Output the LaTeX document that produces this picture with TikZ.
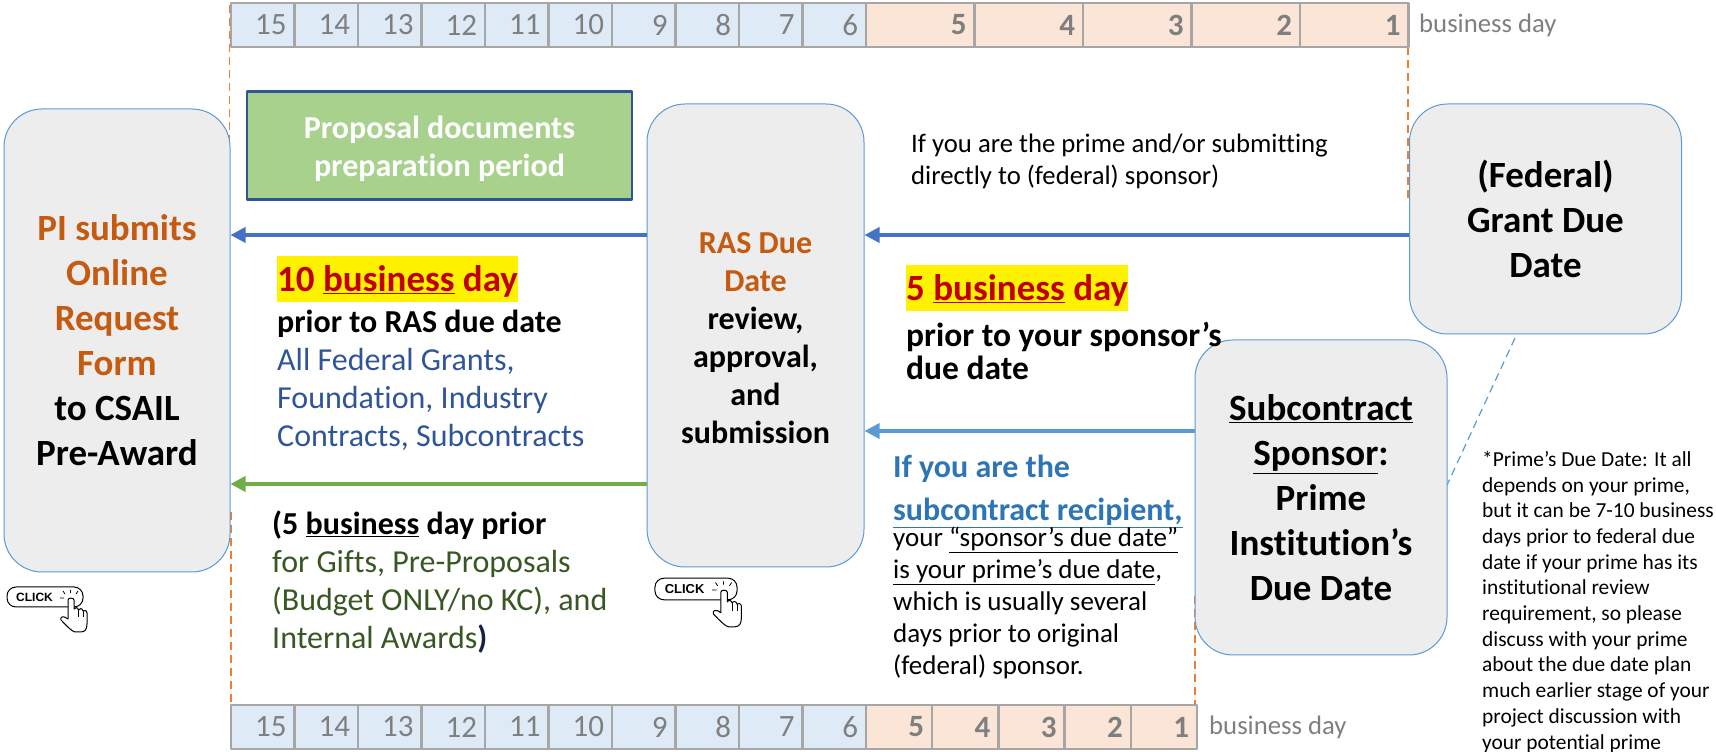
\documentclass[tikz,border=0pt]{standalone}
\usepackage{fontspec}
\setmainfont{Carlito}[Ligatures=CommonOff]
\newfontfamily\clickfont{Liberation Sans}
\usepackage{xcolor}
\usetikzlibrary{arrows.meta,calc}
\definecolor{boxline}{HTML}{5B9BD5}
\definecolor{boxfill}{HTML}{EDEDED}
\definecolor{cellline}{HTML}{A6A6A6}
\definecolor{cellblue}{HTML}{DEEBF7}
\definecolor{cellorange}{HTML}{FBE5D6}
\definecolor{numgray}{HTML}{7F7F7F}
\definecolor{duered}{HTML}{C00000}
\definecolor{titleorange}{HTML}{C55A11}
\definecolor{dashorange}{HTML}{ED7D31}
\definecolor{arrowblue}{HTML}{4472C4}
\definecolor{arrowgreen}{HTML}{70AD47}
\definecolor{navytext}{HTML}{2F5597}
\definecolor{darknavy}{HTML}{1B1F45}
\definecolor{greentext}{HTML}{385723}
\definecolor{subblue}{HTML}{2E75B6}
\definecolor{prepgreen}{HTML}{A9D18E}
\tikzset{
  fontbig/.style={font=\fontsize{37bp}{45bp}\selectfont\bfseries},
  fontmid/.style={font=\fontsize{32bp}{38bp}\selectfont},
  fontsmall/.style={font=\fontsize{27bp}{32bp}\selectfont},
  stepbox/.style={draw=boxline,line width=1bp,fill=boxfill,rounded corners=38bp,inner sep=0pt,align=center},
  cellbase/.style={draw=cellline,line width=2.5bp,minimum height=44bp,inner xsep=8bp,inner ysep=0pt,align=right,text=numgray,font=\fontsize{31bp}{32bp}\selectfont},
  cellb/.style={cellbase,fill=cellblue,text width=47.5bp},
  cello/.style={cellbase,fill=cellorange,text width=92.5bp,font=\fontsize{31bp}{32bp}\selectfont\bfseries},
  cellp/.style={cellbase,fill=cellorange,text width=50.2bp,font=\fontsize{31bp}{32bp}\selectfont\bfseries},
  daylabel/.style={anchor=west,inner sep=0pt,text=numgray,font=\fontsize{26.7bp}{30bp}\selectfont},
  hilite/.style={anchor=north west,fill=yellow,inner sep=0pt,text height=35bp,text depth=11bp,text=duered,font=\fontsize{37bp}{45bp}\selectfont\bfseries},
  textblock/.style={anchor=north west,inner sep=0pt,align=left},
  dashline/.style={dash pattern=on 8bp off 5bp,dashorange,line width=1.5bp},
  flow/.style={line width=3.5bp,-{Triangle[length=15bp,width=15bp]}},
  clickicon/.pic={
    \node (-pill) at (0,0) [draw,line width=1bp,rounded corners=9bp,minimum width=76bp,minimum height=20bp,inner sep=0pt] {};
    \node (-word) at (-10.5bp,0) [inner sep=0pt,font=\clickfont\fontsize{12bp}{12bp}\selectfont\bfseries] {CLICK};
    \draw [line width=.8bp] (19bp,-1bp) -- (15bp,-1bp) (20bp,3bp) -- (18bp,6bp) (25.5bp,4bp) -- (25.5bp,7bp) (31bp,3bp) -- (33bp,6bp);
    \draw [line width=1bp,fill=white,line join=round] (23bp,-17bp) -- (23bp,-3bp) ..controls (23bp,-.5bp) and (29bp,-.5bp) .. (29bp,-3bp) -- (29bp,-12bp)
      ..controls (29.5bp,-10bp) and (33bp,-10bp) .. (33.5bp,-13bp) ..controls (34bp,-11bp) and (37.5bp,-11bp) .. (38bp,-14bp)
      ..controls (38.5bp,-13bp) and (42bp,-13bp) .. (42bp,-16bp) -- (42bp,-27bp) ..controls (42bp,-32bp) and (40bp,-35bp) .. (36bp,-35bp)
      -- (30bp,-35bp) ..controls (26bp,-34bp) and (19bp,-26bp) .. (16bp,-23bp) ..controls (15bp,-20bp) and (18bp,-18bp) .. (23bp,-22bp) -- cycle;
    \draw [line width=.8bp] (33.5bp,-13bp) -- (33.5bp,-20bp) (38bp,-14bp) -- (38bp,-20bp);
  }
}
\begin{document}
\begin{tikzpicture}[>=latex,line join=bevel,]
\useasboundingbox (0,0) rectangle (1716bp,752bp);
%% guide lines
\coordinate (tl) at (229.5bp,747bp);
\coordinate (ml) at (229.5bp,575bp);
\coordinate (nl) at (231bp,240bp);
\coordinate (bl) at (231bp,47bp);
\coordinate (tr) at (1408bp,705bp);
\coordinate (mr) at (1408bp,550bp);
\coordinate (nr) at (1195bp,156bp);
\coordinate (br) at (1195bp,47bp);
\coordinate (duea) at (1515bp,414bp);
\coordinate (dueb) at (1447bp,267bp);
\coordinate (rowa) at (0,517bp);
\coordinate (rowb) at (0,321bp);
\coordinate (rowc) at (0,268bp);
\draw [dashline] (tl) -- (ml);
\draw [dashline] (nl) -- (bl);
\draw [dashline] (tr) -- (mr);
\draw [dashline] (nr) -- (br);
\draw [dash pattern=on 8bp off 5bp,boxline,line width=1.2bp] (duea) -- (dueb);
%% top strip
\node (t15) at (262.75bp,727bp) [cellb] {15};
\node (t14) at (326.25bp,727bp) [cellb] {14};
\node (t13) at (389.75bp,727bp) [cellb] {13};
\node (t12) at (453.25bp,727bp) [cellb] {12};
\node (t11) at (516.75bp,727bp) [cellb] {11};
\node (t10) at (580.25bp,727bp) [cellb] {10};
\node (t9) at (643.75bp,727bp) [cellb] {9};
\node (t8) at (707.25bp,727bp) [cellb] {8};
\node (t7) at (770.75bp,727bp) [cellb] {7};
\node (t6) at (834.25bp,727bp) [cellb] {6};
\node (t5) at (920.25bp,727bp) [cello] {5};
\node (t4) at (1028.75bp,727bp) [cello] {4};
\node (t3) at (1137.25bp,727bp) [cello] {3};
\node (t2) at (1245.75bp,727bp) [cello] {2};
\node (t1) at (1354.25bp,727bp) [cello] {1};
\node (tday) at (1419bp,727bp) [daylabel] {business day};
%% bottom strip
\node (b15) at (262.75bp,25bp) [cellb] {15};
\node (b14) at (326.25bp,25bp) [cellb] {14};
\node (b13) at (389.75bp,25bp) [cellb] {13};
\node (b12) at (453.25bp,25bp) [cellb] {12};
\node (b11) at (516.75bp,25bp) [cellb] {11};
\node (b10) at (580.25bp,25bp) [cellb] {10};
\node (b9) at (643.75bp,25bp) [cellb] {9};
\node (b8) at (707.25bp,25bp) [cellb] {8};
\node (b7) at (770.75bp,25bp) [cellb] {7};
\node (b6) at (834.25bp,25bp) [cellb] {6};
\node (b5) at (899.1bp,25bp) [cellp] {5};
\node (b4) at (965.3bp,25bp) [cellp] {4};
\node (b3) at (1031.5bp,25bp) [cellp] {3};
\node (b2) at (1097.7bp,25bp) [cellp] {2};
\node (b1) at (1163.9bp,25bp) [cellp] {1};
\node (bday) at (1209bp,25bp) [daylabel] {business day};
%% boxes
\node (pi) at (117bp,411.5bp) [stepbox,minimum width=226bp,minimum height=463bp,fontbig] {\textcolor{titleorange}{PI submits}\\\textcolor{titleorange}{Online}\\\textcolor{titleorange}{Request}\\\textcolor{titleorange}{Form}\\to CSAIL\\Pre-Award};
\node (ras) at (755.5bp,416.5bp) [stepbox,minimum width=217bp,minimum height=463bp,font=\fontsize{32bp}{38bp}\selectfont\bfseries] {\rule{0pt}{27bp}\textcolor{titleorange}{RAS Due}\\\textcolor{titleorange}{Date}\\review,\\approval,\\and\\submission};
\node (grant) at (1545.5bp,533bp) [stepbox,minimum width=272bp,minimum height=230bp,fontbig] {(Federal)\\Grant Due\\Date};
\node (prime) at (1321bp,254.5bp) [stepbox,minimum width=252bp,minimum height=315bp,fontbig] {\rule{0pt}{27bp}\underline{Subcontract}\\\underline{Sponsor}:\\Prime\\Institution’s\\Due Date};
\node (prep) at (439.5bp,606.5bp) [draw=navytext,line width=2.5bp,fill=prepgreen,minimum width=385bp,minimum height=108bp,inner sep=0pt,align=center,text=white,font=\fontsize{32bp}{38bp}\selectfont\bfseries] {\rule{0pt}{30bp}Proposal documents\\preparation period};
%% arrows
\draw [flow,arrowblue] (ras.west |- rowa) -- (pi.east |- rowa);
\draw [flow,arrowblue] (grant.west |- rowa) -- (ras.east |- rowa);
\draw [flow,boxline] (prime.west |- rowb) -- (ras.east |- rowb);
\draw [flow,arrowgreen] (ras.west |- rowc) -- (pi.east |- rowc);
%% texts
\node (tena) at (277bp,496bp) [hilite] {10 \underline{business} day};
\node (tenb) at (277bp,442.5bp) [textblock,fontmid] {\textbf{prior to RAS due date}\\\textcolor{navytext}{All Federal Grants,}\\\textcolor{navytext}{Foundation, Industry}\\\textcolor{navytext}{Contracts, Subcontracts}};
\node (gift) at (272bp,241bp) [textblock,fontmid] {\textbf{(5 \underline{business} day prior}\\\textcolor{greentext}{for Gifts, Pre-Proposals}\\\textcolor{greentext}{(Budget ONLY/no KC), and}\\\textcolor{greentext}{Internal Awards}\textbf{\textcolor{darknavy}{)}}};
\node (direct) at (911bp,618bp) [textblock,font=\fontsize{26.7bp}{32bp}\selectfont] {If you are the prime and/or submitting\\directly to (federal) sponsor)};
\node (fivea) at (906bp,487bp) [hilite] {5 \underline{business} day};
\node (fiveb) at (906bp,430bp) [textblock,font=\fontsize{33.5bp}{33bp}\selectfont\bfseries] {prior to your sponsor’s\\due date};
\node (suba) at (893bp,297bp) [textblock,text=subblue,font=\fontsize{32bp}{43bp}\selectfont\bfseries] {If you are the\\\underline{subcontract recipient,}};
\node (subb) at (893bp,225bp) [textblock,fontsmall] {your \underline{“sponsor’s due date”}\\\underline{is your prime’s due date},\\which is usually several\\days prior to original\\(federal) sponsor.};
\node (note) at (1482bp,301bp) [textblock,font=\fontsize{21.4bp}{25.7bp}\selectfont] {*Prime’s Due Date: It all\\depends on your prime,\\but it can be 7-10 business\\days prior to federal due\\date if your prime has its\\institutional review\\requirement, so please\\discuss with your prime\\about the due date plan\\much earlier stage of your\\project discussion with\\your potential prime};
%% click marks
\pic (clicka) at (45bp,155bp) {clickicon};
\pic (clickb) at (696bp,163bp) [scale=1.08,transform shape] {clickicon};
\end{tikzpicture}
\end{document}
